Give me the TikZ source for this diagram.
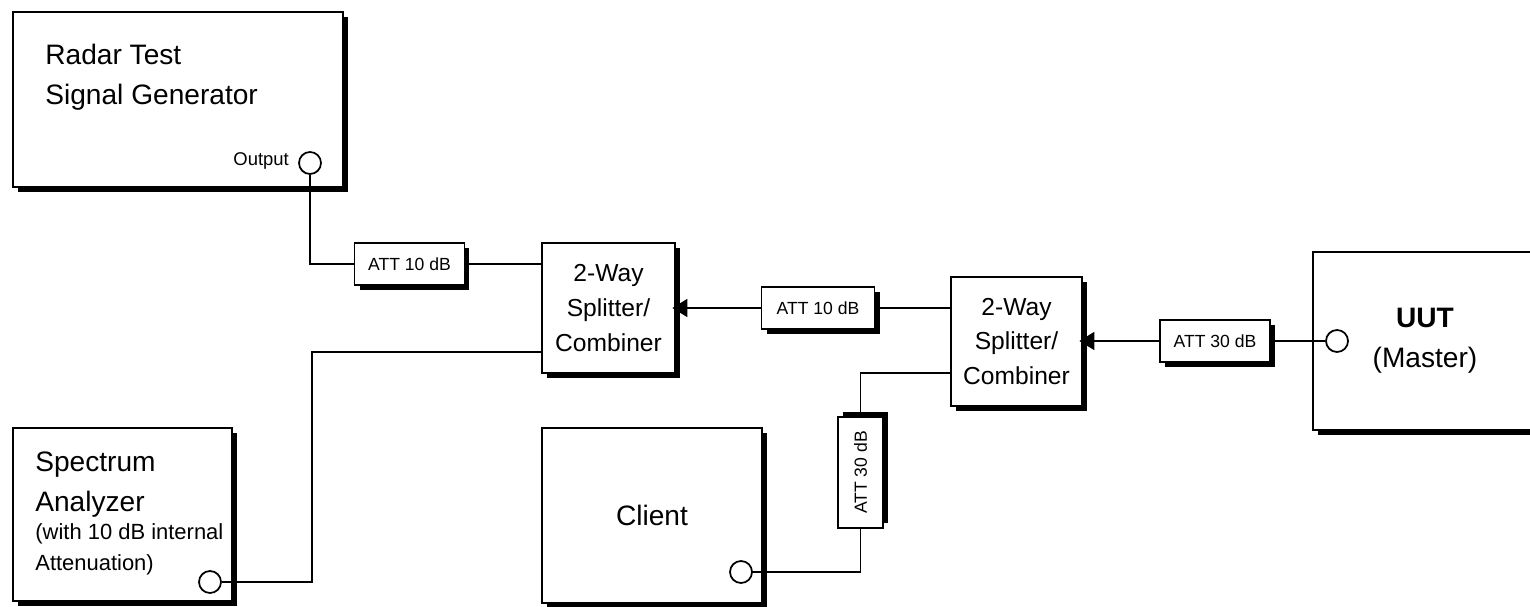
\documentclass[tikz,border=0pt]{standalone}
\usepackage{fontspec}
\setmainfont{Liberation Sans}
\usepackage{tikz}
\usetikzlibrary{positioning}
\usetikzlibrary{shadows}
\usetikzlibrary{arrows.meta}
\tikzset{>={Triangle[length=0.3cm,width=0.36cm]}}
\tikzstyle{line} = [draw, line width=1pt]
\tikzstyle{box} = [draw, line width=1pt, fill=white, inner sep=0pt]
\tikzstyle{device} = [box,
  drop shadow={shadow xshift=0.1cm, shadow yshift=-0.1cm, opacity=1, fill=black}]
\tikzstyle{attbox} = [box, minimum width=2.2cm, minimum height=0.84cm,
  font=\fontsize{10}{12}\selectfont]
\tikzstyle{att} = [attbox,
  drop shadow={shadow xshift=0.1cm, shadow yshift=-0.1cm, opacity=1, fill=black}]
\tikzstyle{splitter} = [device, align=center, font=\fontsize{14}{19.8}\selectfont]
\tikzstyle{port} = [circle, draw, line width=1pt, fill=white, minimum size=0.44cm, inner sep=0pt]
\tikzstyle{big} = [inner sep=0pt, font=\fontsize{16}{22.7}\selectfont]

\begin{document}
\begin{tikzpicture}[x=0.02cm, y=-0.02cm]
    \useasboundingbox (0,0) rectangle (1530,607);
    \clip (0,0) rectangle (1530,607);
    %% Instruments
    \node [device, minimum width=6.6cm, minimum height=3.5cm] (gen) at (178,99.5) {};
    \node [big, anchor=north west, align=left] (gentext) at (45,44) {Radar Test\\Signal Generator};
    \node [port] (genout) at (310,163) {};
    \node [left=0.18cm of genout, inner sep=0pt, font=\fontsize{10.5}{12}\selectfont, yshift=0.05cm] (outlabel) {Output};

    \node [device, minimum width=4.38cm, minimum height=3.46cm] (sa) at (122.5,514.5) {};
    \node [big, anchor=north west, align=left] (satext) at (35,452) {Spectrum\\Analyzer};
    \node [anchor=north west, align=left, inner sep=0pt, font=\fontsize{12.5}{18}\selectfont] (sanote) at (35,523) {(with 10 dB internal\\Attenuation)};
    \node [port] (saport) at (210,582) {};

    \node [device, big, minimum width=4.4cm, minimum height=3.5cm] (client) at (652,515.5) {Client};
    \node [port] (clport) at (741,572) {};

    \node [device, big, align=center, minimum width=4.48cm, minimum height=3.56cm] (uut) at (1425,341) {\textbf{UUT}\\(Master)};
    \node [port] (uutport) at (1337,341) {};

    %% Splitters and attenuators
    \node [splitter, minimum width=2.66cm, minimum height=2.6cm] (spl1) at (608.5,308) {2-Way\\Splitter/\\Combiner};
    \node [splitter, minimum width=2.62cm, minimum height=2.58cm] (spl2) at (1016.5,341.5) {2-Way\\Splitter/\\Combiner};
    \node [att] (att1) at (409.5,264) {ATT 10 dB};
    \node [att, minimum width=2.26cm] (att2) at (818,308) {ATT 10 dB};
    \node [att] (att3) at (1215,341) {ATT 30 dB};
    \node [attbox, rotate=90, minimum width=2.22cm, minimum height=0.9cm,
      drop shadow={shadow xshift=0.1cm, shadow yshift=0.1cm, opacity=1, fill=black}] (att4) at (860.5,472.5) {ATT 30 dB};
    \coordinate (sabend) at (312,352);
    \coordinate (clbend) at (860.5,373);

    %% Cables
    \path [line] (genout) |- (att1);
    \path [line] (att1) -- (att1 -| spl1.west);
    \path [line, ->, shorten >=-2pt] (att2) -- (att2 -| spl1.east);
    \path [line] (att2) -- (att2 -| spl2.west);
    \path [line, ->, shorten >=-2pt] (att3) -- (att3 -| spl2.east);
    \path [line] (att3) -- (uutport);
    \path [line] (sabend -| spl1.west) -- (sabend) |- (saport);
    \path [line] (att4.east) |- (clbend -| spl2.west);
    \path [line] (att4.west) |- (clport);
\end{tikzpicture}
\end{document}
